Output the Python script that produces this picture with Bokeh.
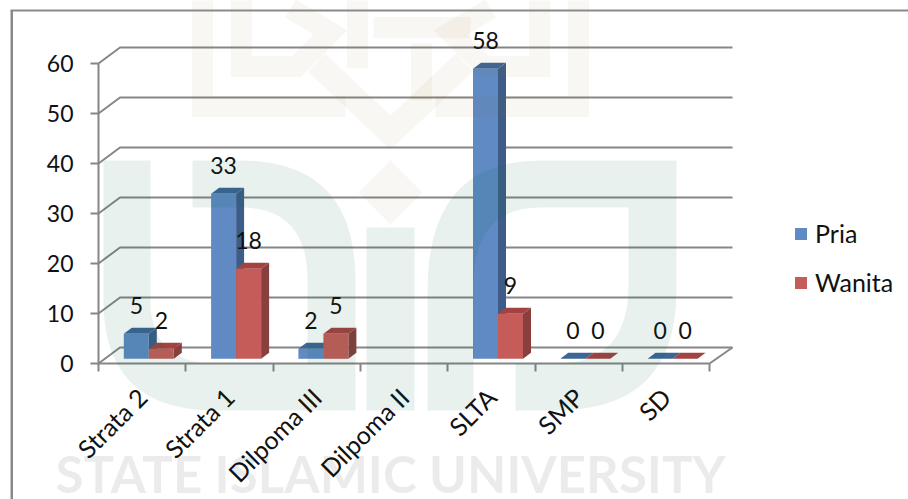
import math
from bokeh.plotting import figure
from bokeh.embed import file_html
from bokeh.resources import INLINE
from bokeh.core.properties import value
from bokeh.models import (Range1d, FixedTicker, Legend, LegendItem, PolyAnnotation, Label, BoxAnnotation)

categories = ["Strata 2", "Strata 1", "Dilpoma III", "Dilpoma II", "SLTA", "SMP", "SD"]
pria = [5, 33, 2, None, 58, 0, 0]
wanita = [2, 18, 5, None, 9, 0, 0]
y_ticks = [0, 10, 20, 30, 40, 50, 60]

W, H = 908, 499
FL, FB = 98, 363            # px of the front plane's left / bottom
UX, UY = 87.3, 5.0          # px per category, px per value
FONT = "Lato"
SIZE = "25px"
NUM = "23px"
GRID = "#868686"

def X(px): return (px - FL) / UX
def Y(py): return (FB - py) / UY

p = figure(width=W, height=H, output_backend="svg", toolbar_location=None,
           x_range=Range1d(X(0), X(W)), y_range=Range1d(Y(H), Y(0)),
           min_border_left=0, min_border_right=0, min_border_top=0, min_border_bottom=0)
p.outline_line_color = None
p.grid.visible = False
p.background_fill_color = "white"

# axes
ya = p.yaxis[0]
ya.fixed_location = 0
ya.ticker = FixedTicker(ticks=y_ticks)
ya.bounds = (0, 60)
ya.axis_line_color = GRID; ya.axis_line_width = 2
ya.major_tick_line_color = GRID; ya.major_tick_line_width = 2
ya.major_tick_in = 0; ya.major_tick_out = 8
ya.minor_tick_line_color = None
ya.major_label_standoff = 17
ya.major_label_text_font = FONT; ya.major_label_text_font_size = NUM
ya.major_label_text_color = "#111111"

xa = p.xaxis[0]
xa.fixed_location = 0
xa.ticker = FixedTicker(ticks=[i + 0.5 for i in range(len(categories))],
                        minor_ticks=list(range(len(categories) + 1)))
xa.major_label_overrides = {i + 0.5: c for i, c in enumerate(categories)}
xa.bounds = (0, len(categories))
xa.axis_line_color = GRID; xa.axis_line_width = 2
xa.major_tick_line_color = None; xa.major_tick_out = 0; xa.major_tick_in = 0
xa.minor_tick_line_color = GRID; xa.minor_tick_line_width = 2
xa.minor_tick_in = 0; xa.minor_tick_out = 8
xa.major_label_orientation = math.pi / 4
xa.major_label_standoff = 21
xa.major_label_text_font = FONT; xa.major_label_text_font_size = SIZE
xa.major_label_text_color = "#111111"

# 3-D back wall gridlines
n = len(categories)
back_l, back_r, back_dy = X(119.5), X(732), 16 / UY
gx = [[0, back_l, back_r] for _ in y_ticks]
gy = [[v, v + back_dy, v + back_dy] for v in y_ticks]
gx.append([n, back_r]); gy.append([0, back_dy])
p.multi_line(gx, gy, line_color=GRID, line_width=2)

# 3-D bars
BAR_W = 25 / UX
OFF = 25.3 / UX
DX, DY = 8 / UX, 6 / UY
BASE = 4.7 / UY
LABEL_UP = 28.5 / UY

def bars(vals, shift, front, side, top):
    idx = [i for i, v in enumerate(vals) if v is not None]
    l = [i + OFF + shift for i in idx]
    r = [a + BAR_W for a in l]
    t = [vals[i] + BASE for i in idx]
    p.patches([[b, b + DX, b + DX, b] for b in r],
              [[BASE, BASE + DY, h + DY, h] for h in t],
              fill_color=side, line_color=None)
    p.patches([[a, b, b + DX, a + DX] for a, b in zip(l, r)],
              [[h, h, h + DY, h + DY] for h in t],
              fill_color=top, line_color=None)
    q = p.quad(left=l, right=r, bottom=[BASE] * len(l), top=t, fill_color=front, line_color=None)
    p.text([(a + b) / 2 for a, b in zip(l, r)], [h + LABEL_UP for h in t],
           text=[str(vals[i]) for i in idx], text_font=value(FONT), text_font_size=value(NUM),
           text_color="#111111", text_align="center", text_baseline="middle")
    return q

r_pria = bars(pria, 0, "#5F8AC4", "#3D5D88", "#3D6595")
r_wanita = bars(wanita, BAR_W, "#C55C59", "#893F3E", "#A24342")

# legend
lg = Legend(items=[LegendItem(label="Pria", renderers=[r_pria]),
                   LegendItem(label="Wanita", renderers=[r_wanita])],
            location=(793, H - 297), padding=0, margin=0, border_line_color=None,
            background_fill_alpha=0, glyph_width=15, glyph_height=15, label_standoff=7,
            spacing=19, label_text_font=FONT, label_text_font_size=SIZE,
            label_text_color="#111111", label_height=15)
p.add_layout(lg)

# frame of the original chart object
for x0, x1, y0, y1 in [(10, 12.5, 10, 499), (10, 908, 9, 11)]:
    p.add_layout(BoxAnnotation(left=X(x0), right=X(x1), top=Y(y0), bottom=Y(y1),
                               fill_color="#8A8A8A", fill_alpha=1, line_color=None))

# watermark (lies over the chart in the scan)
TEAL = "#005A3C"; TEAL_A = 0.085
TAN = "#966E28"; TAN_A = 0.055

def curve(a, c, b, k=14):
    return [((1 - t) ** 2 * a[0] + 2 * t * (1 - t) * c[0] + t ** 2 * b[0],
             (1 - t) ** 2 * a[1] + 2 * t * (1 - t) * c[1] + t ** 2 * b[1])
            for t in [j / k for j in range(k + 1)]]

u = [(103, 160), (150, 160), (150, 300)] + curve((150, 300), (150, 363), (215, 363)) + [(307, 363), (307, 280)] \
    + curve((307, 280), (307, 207), (240, 207)) + [(192, 207), (192, 160), (240, 160)] \
    + curve((240, 160), (355, 160), (355, 280)) + [(355, 410), (215, 410)] + curve((215, 410), (103, 410), (103, 300))
i_stem = [(366, 227), (414, 227), (414, 410), (366, 410)]
n_shape = [(427, 410), (427, 290)] + curve((427, 290), (427, 160), (540, 160)) + [(676, 160), (676, 290)] \
    + curve((676, 290), (676, 410), (555, 410)) + [(515, 410), (515, 363), (555, 363)] \
    + curve((555, 363), (628, 363), (628, 285)) + [(628, 207), (540, 207)] \
    + curve((540, 207), (473, 207), (473, 285)) + [(473, 410)]
for pts in (u, i_stem, n_shape):
    p.add_layout(PolyAnnotation(xs=[X(a) for a, _ in pts], ys=[Y(b) for _, b in pts],
                                fill_color=TEAL, fill_alpha=TEAL_A, line_color=None))

diamond = [(390, 160), (422, 192), (390, 224), (358, 192)]
p.add_layout(PolyAnnotation(xs=[X(a) for a, _ in diamond], ys=[Y(b) for _, b in diamond],
                            fill_color=TAN, fill_alpha=TAN_A, line_color=None))

def mirror(b): return [(780 - a, c) for a, c in b]
a_band = [(202, 0), (202, 106), (345, 106)]
b_band = [(241, 0), (241, 66), (296, 66), (330, 32), (290, 8)]
v_band = [(316, 62), (390, 132), (464, 62)]
others = [[(357, 0), (357, 68)], [(373, 27), (470, 27)], [(421, 43), (421, 100)]]
def add_motif(lines, w):
    r = p.multi_line([[X(a) for a, _ in l] for l in lines], [[Y(b) for _, b in l] for l in lines],
                     line_color=TAN, line_alpha=TAN_A, line_width=w, line_join="miter")
    r.level = "annotation"
add_motif([a_band, mirror(a_band), b_band, mirror(b_band)] + others, 21)
add_motif([v_band], 25)

p.add_layout(Label(x=X(55), y=Y(473), text="STATE ISLAMIC UNIVERSITY", text_font=FONT,
                   text_font_size="51px", text_font_style="bold", text_color="#000000", text_alpha=0.08,
                   text_baseline="middle", text_align="left"))

open("out.html", "w").write(file_html(p, INLINE))
